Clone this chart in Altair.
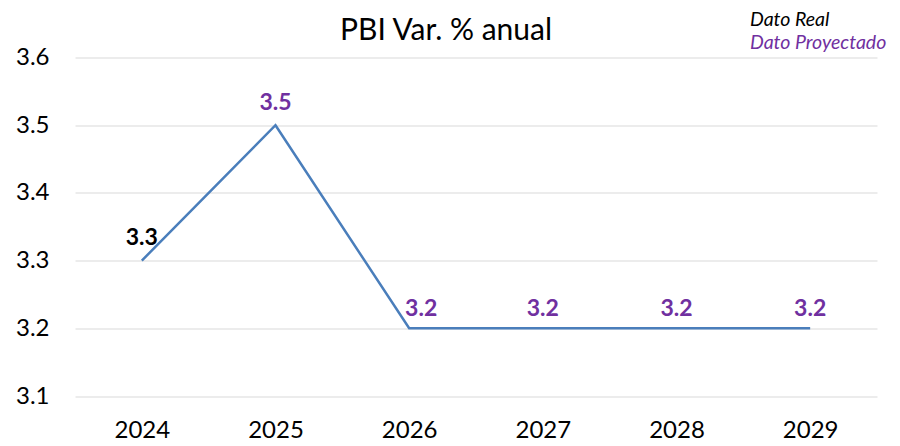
import altair as alt
import pandas as pd

years = ["2024", "2025", "2026", "2027", "2028", "2029"]
values = [3.3, 3.5, 3.2, 3.2, 3.2, 3.2]
kinds = ["Real", "Proyectado", "Proyectado", "Proyectado", "Proyectado", "Proyectado"]
y_ticks = [3.1, 3.2, 3.3, 3.4, 3.5, 3.6]
title_text = "PBI Var. % anual"
legend_real = "Dato Real"
legend_proj = "Dato Proyectado"

df = pd.DataFrame({"year": years, "value": values, "kind": kinds})

FONT = "Lato"
PURPLE = "#7030A0"
BLUE = "#4A7EBB"

x_enc = alt.X("year:O", sort=years, scale=alt.Scale(type="point", padding=0.5),
              axis=alt.Axis(title=None, labelAngle=0, labelFontSize=24, labelFont=FONT,
                            labelColor="#000000", ticks=False, domain=False, labelPadding=22,
                            grid=False))
y_enc = alt.Y("value:Q", scale=alt.Scale(domain=[3.1, 3.6], nice=False, zero=False),
              axis=alt.Axis(title=None, values=y_ticks, format=".1f", labelFontSize=24,
                            labelFont=FONT, labelColor="#000000", ticks=False, domain=False,
                            labelPadding=26, gridColor="#d9d9d9", gridWidth=1.2))

base = alt.Chart(df)

line = base.mark_line(color=BLUE, strokeWidth=2.5).encode(x=x_enc, y=y_enc)

def labels(filt, color, dy, dx=0):
    return base.transform_filter(filt).mark_text(
        font=FONT, fontSize=23, fontWeight="bold", color=color, dy=dy, dx=dx
    ).encode(x=alt.X("year:O", sort=years), y="value:Q",
             text=alt.Text("value:Q", format=".1f"))

lbl_real = labels(alt.datum.kind == "Real", "#000000", -23)
lbl_peak = labels(alt.datum.year == "2025", PURPLE, -22.5)
lbl_flat = labels((alt.datum.kind == "Proyectado") & (alt.datum.year != "2025")
                  & (alt.datum.year != "2026"), PURPLE, -19.5)
lbl_2026 = labels(alt.datum.year == "2026", PURPLE, -19.5, 12)

title = alt.Chart(pd.DataFrame({"t": [title_text]})).mark_text(
    font=FONT, fontSize=30, color="#000000", align="center", baseline="alphabetic"
).encode(x=alt.value(371), y=alt.value(-17.5), text="t:N")

leg1 = alt.Chart(pd.DataFrame({"t": [legend_real]})).mark_text(
    font=FONT, fontSize=19.5, fontStyle="italic", color="#000000", align="left", baseline="alphabetic"
).encode(x=alt.value(675), y=alt.value(-31.5), text="t:N")

leg2 = alt.Chart(pd.DataFrame({"t": [legend_proj]})).mark_text(
    font=FONT, fontSize=19.5, fontStyle="italic", color=PURPLE, align="left", baseline="alphabetic"
).encode(x=alt.value(675), y=alt.value(-9), text="t:N")

chart = alt.layer(line, lbl_real, lbl_peak, lbl_flat, lbl_2026, title, leg1, leg2).properties(
    width=802, height=338.5,
    autosize=alt.AutoSizeParams(type="none"),
    padding={"left": 75, "top": 57.5, "right": 23, "bottom": 50},
    background="white",
).configure_view(strokeWidth=0, stroke="transparent")

chart.save("out.html", embed_options={"renderer": "svg", "actions": False})
